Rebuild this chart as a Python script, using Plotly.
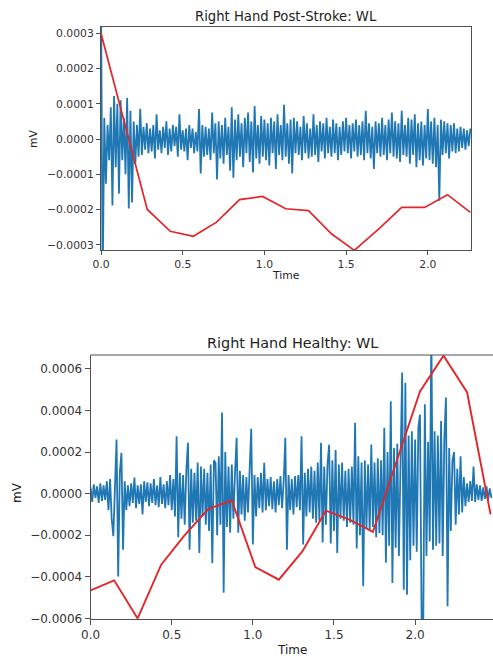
import plotly.graph_objects as go

# ---------------- data (signal values in units of 1e-6 mV) ----------------
UNIT = 1e-6
DT = 0.01  # sample interval of the plotted EMG traces (s)

post_stroke_emg = [
    420, -420, 60, -127, 40, -60, 90, -189, 122, -80,
    100, -155, 110, -60, 60, -100, 117, -197, 80, -180,
    50, -70, 40, -50, 86, -45, 35, -30, 45, -40,
    30, -35, 40, -55, 70, -30, 25, -40, 35, -25,
    50, -45, 30, -35, 40, -20, 35, -50, 70, -30,
    25, -35, 30, -60, 40, -25, 30, -40, 20, -35,
    85, -98, 40, -50, 35, -45, 30, -60, 75, -40,
    45, -115, 50, -55, 40, -70, 60, -45, 35, -90,
    90, -110, 55, -60, 70, -50, 45, -80, 60, -40,
    75, -65, 50, -95, 94, -55, 40, -70, 65, -50,
    55, -60, 45, -75, 60, -40, 50, -85, 70, -45,
    40, -60, 97, -50, 45, -70, 55, -98, 60, -40,
    50, -45, 35, -60, 65, -40, 45, -55, 30, -50,
    70, -45, 40, -65, 50, -35, 45, -55, 60, -40,
    35, -50, 55, -40, 45, -60, 35, -45, 50, -35,
    60, -40, 40, -55, 45, -35, 55, -50, 40, -45,
    50, -60, 80, -40, 45, -55, 35, -85, 50, -40,
    45, -50, 60, -45, 40, -60, 55, -40, 75, -50,
    50, -55, 45, -65, 80, -45, 40, -50, 60, -70,
    55, -45, 70, -80, 45, -60, 50, -75, 40, -55,
    85, -60, 50, -70, 60, -80, 40, -175, 55, -45,
    50, -40, 45, -55, 40, -35, 45, -40, 30, -35,
    35, -25, 30, -30, 25, -20, 30,
]

healthy_emg = [
    30, -40, 45, -20, 35, -45, 50, -35, 40, -30,
    60, -80, 70, -120, -205, 90, 260, -398, 100, 197,
    -270, 60, -80, 40, -60, 50, -45, 77, -70, 40,
    -50, 45, -100, 60, -40, 55, -60, 50, -45, 70,
    -55, 40, -65, 80, -50, 45, -70, 60, -55, 90,
    -80, 70, -110, 276, -210, 100, -120, 90, -150, 110,
    245, -270, 120, -140, 100, -130, 150, -285, 130, -110,
    120, -150, 100, -180, 140, -333, 160, 149, -200, 180,
    -150, 390, -477, 200, -160, 130, -188, 140, -120, 100,
    269, -188, 110, -100, 90, -130, 80, -90, 120, 312,
    -245, 90, -110, 80, -70, 100, -90, 148, -80, 70,
    -60, 80, -75, 60, -90, 70, -55, 85, -70, 60,
    269, -270, 90, -80, 70, -100, 85, -65, 90, -80,
    276, -245, 100, -110, 120, -90, 130, -120, 110, -140,
    150, -130, 245, -235, 130, -150, 140, 235, -240, 160,
    -180, 210, -285, 140, -120, 150, -130, 110, -160, 120,
    -140, 130, -150, 341, -264, 180, -200, 150, -446, 160,
    -170, 140, -180, 236, -160, 150, -210, 170, -190, 160,
    -200, 317, -332, 200, -250, 444, -430, 220, -260, 240,
    -300, 250, 583, -462, 534, -486, 280, -320, 300, -250,
    260, -280, 320, 380, -606, -650, 430, -300, 250, -230,
    800, -270, 300, -250, 280, -240, 350, -300, 260, 462,
    -542, 220, -180, 160, 200, -150, 120, -100, 180, -90,
    80, -60, 50, -40, 60, -35, 130, -40, 45, -30,
    40, -35, 30, -25, 35, -30, 25, -20,
]

post_stroke_wl_t = [0, 0.141, 0.283, 0.424, 0.565, 0.707, 0.848, 0.989, 1.13,
                    1.27, 1.41, 1.55, 1.70, 1.84, 1.98, 2.12, 2.26]
post_stroke_wl = [300, 50, -200, -262, -276, -236, -172, -163, -198,
                  -203, -269, -316, -255, -194, -194, -158, -208]

healthy_wl_t = [0, 0.145, 0.29, 0.435, 0.58, 0.725, 0.87, 1.015, 1.16,
                1.305, 1.45, 1.595, 1.74, 1.885, 2.03, 2.175, 2.32, 2.465]
healthy_wl = [-465, -417, -600, -342, -200, -74, -32, -353, -414,
              -278, -82, -125, -184, 150, 492, 664, 488, -100]

x_ticks = [0, 0.5, 1.0, 1.5, 2.0]
x_tick_text = ["0.0", "0.5", "1.0", "1.5", "2.0"]
top_y_ticks = [-3e-4, -2e-4, -1e-4, 0, 1e-4, 2e-4, 3e-4]
top_y_text = ["\u22120.0003", "\u22120.0002", "\u22120.0001", "0.0000", "0.0001", "0.0002", "0.0003"]
bot_y_ticks = [-6e-4, -4e-4, -2e-4, 0, 2e-4, 4e-4, 6e-4]
bot_y_text = ["\u22120.0006", "\u22120.0004", "\u22120.0002", "0.0000", "0.0002", "0.0004", "0.0006"]

title_top = "Right Hand Post-Stroke: WL"
title_bot = "Right Hand Healthy: WL"

# ---------------- figure ----------------
W, H = 493, 656
BLUE = "#1f77b4"
RED = "#e3262a"
SPINE = "#505050"
FONT = "DejaVu Sans"
TICK_TOP, TICK_BOT = 10.8, 12
TITLE_TOP, TITLE_BOT = 13.2, 14.4

t_top = [i * DT for i in range(len(post_stroke_emg))]
t_bot = [i * DT for i in range(len(healthy_emg))]

fig = go.Figure()
fig.add_trace(go.Scatter(x=t_top, y=[v * UNIT for v in post_stroke_emg], mode="lines",
                         line=dict(color=BLUE, width=1.8), xaxis="x", yaxis="y",
                         showlegend=False, hoverinfo="skip"))
fig.add_trace(go.Scatter(x=post_stroke_wl_t, y=[v * UNIT for v in post_stroke_wl], mode="lines",
                         line=dict(color=RED, width=1.7), xaxis="x", yaxis="y",
                         showlegend=False, hoverinfo="skip"))
fig.add_trace(go.Scatter(x=t_bot, y=[v * UNIT for v in healthy_emg], mode="lines",
                         line=dict(color=BLUE, width=1.8), xaxis="x2", yaxis="y2",
                         showlegend=False, hoverinfo="skip"))
fig.add_trace(go.Scatter(x=healthy_wl_t, y=[v * UNIT for v in healthy_wl], mode="lines",
                         line=dict(color=RED, width=1.9), xaxis="x2", yaxis="y2",
                         showlegend=False, hoverinfo="skip"))


def px_x(p):
    return p / W


def px_y(p):
    return 1 - p / H


top_l, top_r, top_t, top_b = 101, 471, 27, 250
bot_l, bot_r, bot_t, bot_b = 90.6, 493, 355, 619

axis_common = dict(showgrid=False, zeroline=False, showline=True, linecolor=SPINE, linewidth=1,
                   ticks="outside", tickcolor=SPINE, tickwidth=1, automargin=False)

fig.update_layout(
    template="none",
    width=W, height=H, margin=dict(l=0, r=0, t=0, b=0, pad=0),
    paper_bgcolor="white", plot_bgcolor="white",
    font=dict(family=FONT, color="#333333"),
    xaxis=dict(domain=[px_x(top_l), px_x(top_r)], anchor="y", range=[0, 2.264],
               tickvals=x_ticks, ticktext=x_tick_text, ticklen=4,
               tickfont=dict(size=TICK_TOP, family=FONT, color="#333"), mirror=True, **axis_common),
    yaxis=dict(domain=[px_y(top_b), px_y(top_t)], anchor="x", range=[-0.000315, 0.000318],
               tickvals=top_y_ticks, ticktext=top_y_text, ticklen=4,
               tickfont=dict(size=TICK_TOP, family=FONT, color="#333"), mirror=True, **axis_common),
    xaxis2=dict(domain=[px_x(bot_l), 1.0], anchor="y2", range=[0, 2.48],
                tickvals=x_ticks, ticktext=x_tick_text, ticklen=5,
                tickfont=dict(size=TICK_BOT, family=FONT, color="#333"), **axis_common),
    yaxis2=dict(domain=[px_y(bot_b), px_y(bot_t)], anchor="x2", range=[-0.000603, 0.000667],
                tickvals=bot_y_ticks, ticktext=bot_y_text, ticklen=5,
                tickfont=dict(size=TICK_BOT, family=FONT, color="#333"), **axis_common),
)

# top border of the lower panel (its right edge is cut off by the image)
fig.add_shape(type="line", xref="x2 domain", yref="y2 domain", x0=0, x1=1, y0=1, y1=1,
              line=dict(color=SPINE, width=1))

annotations = [
    dict(text=title_top, x=px_x((top_l + top_r) / 2), y=px_y(17), size=TITLE_TOP),
    dict(text=title_bot, x=px_x(292), y=px_y(343), size=TITLE_BOT),
    dict(text="Time", x=px_x(286), y=px_y(276), size=TICK_TOP),
    dict(text="Time", x=px_x(292), y=px_y(650), size=TICK_BOT),
]
for a in annotations:
    fig.add_annotation(text=a["text"], x=a["x"], y=a["y"], xref="paper", yref="paper",
                       showarrow=False, xanchor="center", yanchor="middle",
                       font=dict(size=a["size"], family=FONT, color="#222"))
fig.add_annotation(text="mV", x=px_x(33), y=px_y(139), xref="paper", yref="paper",
                   showarrow=False, textangle=-90, xanchor="center", yanchor="middle",
                   font=dict(size=TICK_TOP, family=FONT, color="#222"))
fig.add_annotation(text="mV", x=px_x(17), y=px_y(493), xref="paper", yref="paper",
                   showarrow=False, textangle=-90, xanchor="center", yanchor="middle",
                   font=dict(size=TICK_BOT, family=FONT, color="#222"))

fig.write_html("out.html")
